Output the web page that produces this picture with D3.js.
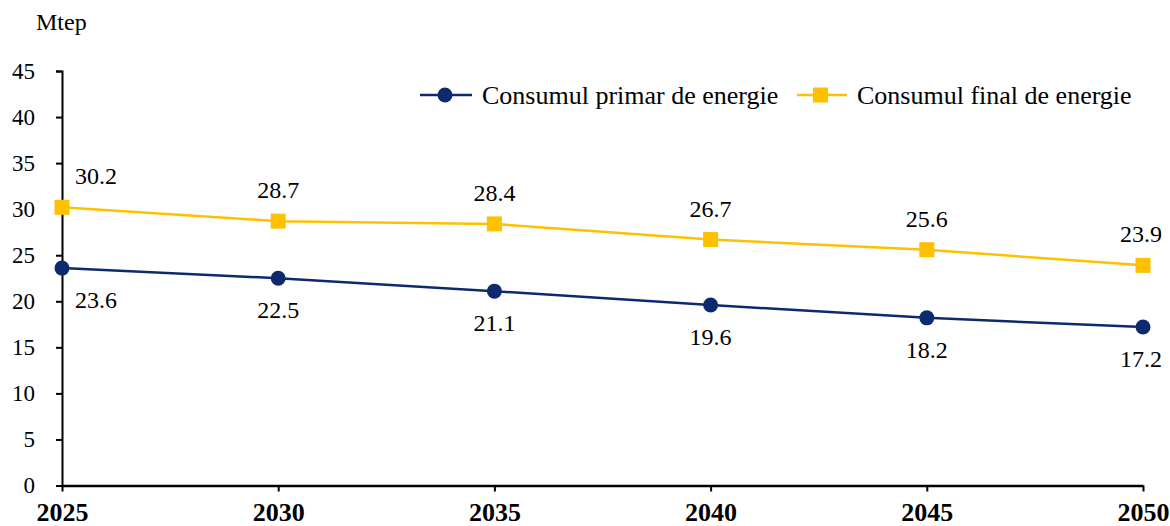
<!DOCTYPE html>
<html>
<head>
<meta charset="utf-8">
<script src="https://cdn.jsdelivr.net/npm/d3@7"></script>
</head>
<body style="margin:0;background:#fff">
<svg id="chart" width="1170" height="526"></svg>
<script>
var years = [2025, 2030, 2035, 2040, 2045, 2050];
var primar = [23.6, 22.5, 21.1, 19.6, 18.2, 17.2];
var finalE = [30.2, 28.7, 28.4, 26.7, 25.6, 23.9];
var yTicks = [0, 5, 10, 15, 20, 25, 30, 35, 40, 45];
var seriesNames = ["Consumul primar de energie", "Consumul final de energie"];

var navy = "#0E2A6E", gold = "#FFC000";
var FONT = "'Liberation Serif'";
var svg = d3.select("#chart");

var x = d3.scaleLinear().domain([2025, 2050]).range([62, 1143]);
var y = d3.scaleLinear().domain([0, 45]).range([485.5, 71]);

// y axis
var yAxis = svg.append("g")
    .attr("transform", "translate(62,0)")
    .call(d3.axisLeft(y).tickValues(yTicks).tickSize(6).tickPadding(21));
yAxis.select(".domain").attr("stroke", "#000").attr("stroke-width", 2);
yAxis.selectAll(".tick line").attr("stroke", "#000").attr("stroke-width", 2);
yAxis.selectAll("text").style("font-family", FONT).style("font-size", "23px").attr("fill", "#000");

// x axis
var xAxis = svg.append("g")
    .attr("transform", "translate(0,485.5)")
    .call(d3.axisBottom(x).tickValues(years).tickFormat(d3.format("d")).tickSize(6).tickSizeOuter(0));
xAxis.select(".domain").attr("stroke", "#000").attr("stroke-width", 2.5);
xAxis.selectAll(".tick line").attr("stroke", "#000").attr("stroke-width", 2);
xAxis.selectAll("text").style("font-family", FONT).style("font-size", "26px")
    .style("font-weight", "bold").attr("fill", "#000").attr("y", 35.5).attr("dy", 0);

svg.append("text").attr("x", 36).attr("y", 30)
    .style("font-family", FONT).style("font-size", "24px").text("Mtep");

var line = d3.line().x(function (d, i) { return x(years[i]); }).y(function (d) { return y(d); });

// final (yellow)
svg.append("path").datum(finalE).attr("d", line)
    .attr("fill", "none").attr("stroke", gold).attr("stroke-width", 2.5);
svg.selectAll(".sq").data(finalE).enter().append("rect")
    .attr("x", function (d, i) { return x(years[i]) - 7.5; })
    .attr("y", function (d) { return y(d) - 7.5; })
    .attr("width", 15).attr("height", 15).attr("fill", gold);

// primar (navy)
svg.append("path").datum(primar).attr("d", line)
    .attr("fill", "none").attr("stroke", navy).attr("stroke-width", 2.5);
svg.selectAll(".dot").data(primar).enter().append("circle")
    .attr("cx", function (d, i) { return x(years[i]); })
    .attr("cy", function (d) { return y(d); })
    .attr("r", 7.5).attr("fill", navy);

function labelX(i) {
    if (i === 0) return x(years[i]) + 34;
    if (i === years.length - 1) return x(years[i]) - 2;
    return x(years[i]);
}

svg.selectAll(".lf").data(finalE).enter().append("text")
    .attr("x", function (d, i) { return labelX(i); })
    .attr("y", function (d) { return y(d) - 23; })
    .attr("text-anchor", "middle").style("font-family", FONT).style("font-size", "24px")
    .text(function (d) { return d.toFixed(1); });

svg.selectAll(".lp").data(primar).enter().append("text")
    .attr("x", function (d, i) { return labelX(i); })
    .attr("y", function (d) { return y(d) + 40; })
    .attr("text-anchor", "middle").style("font-family", FONT).style("font-size", "24px")
    .text(function (d) { return d.toFixed(1); });

// legend
var lg = svg.append("g").attr("transform", "translate(420,95)");
lg.append("line").attr("x1", 0).attr("x2", 52).attr("stroke", navy).attr("stroke-width", 2.5);
lg.append("circle").attr("cx", 25).attr("r", 7.5).attr("fill", navy);
lg.append("text").attr("x", 62).attr("y", 9).style("font-family", FONT).style("font-size", "26px").text(seriesNames[0]);

var lg2 = svg.append("g").attr("transform", "translate(797,95)");
lg2.append("line").attr("x1", 0).attr("x2", 50).attr("stroke", gold).attr("stroke-width", 2.5);
lg2.append("rect").attr("x", 16).attr("y", -7.5).attr("width", 15).attr("height", 15).attr("fill", gold);
lg2.append("text").attr("x", 60).attr("y", 9).style("font-family", FONT).style("font-size", "26px").text(seriesNames[1]);
</script>
</body>
</html>
